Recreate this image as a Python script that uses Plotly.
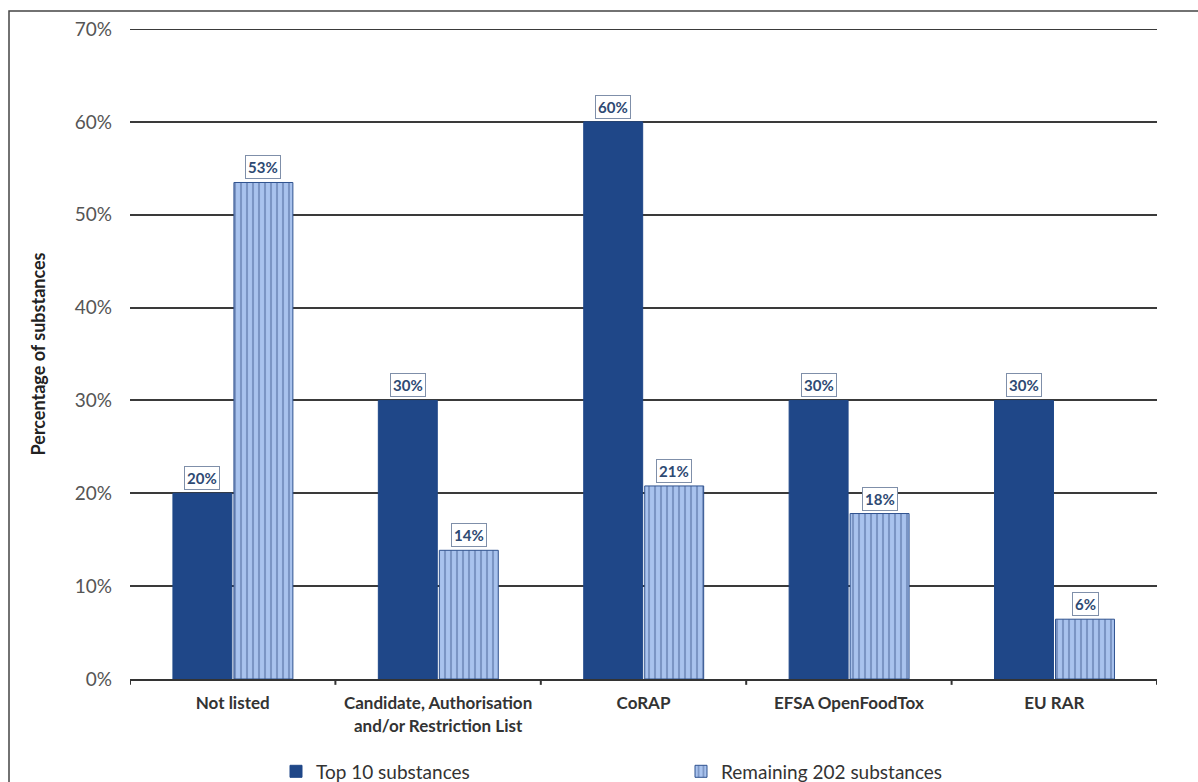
import plotly.graph_objects as go

# Share of substances appearing on each regulatory list
categories = ["Not listed", "Candidate, Authorisation<br>and/or Restriction List",
              "CoRAP", "EFSA OpenFoodTox", "EU RAR"]
top10 = [20, 30, 60, 30, 30]
remaining202 = [53.47, 13.86, 20.79, 17.82, 6.44]
ytick_vals = [0, 10, 20, 30, 40, 50, 60, 70]
ytick_text = ["0%", "10%", "20%", "30%", "40%", "50%", "60%", "70%"]

DARK = "#1f4788"
LIGHT = "#a9c3ee"
FONT = "Lato, Carlito, sans-serif"

BAR_W = 0.287
idx = list(range(len(categories)))

fig = go.Figure()
fig.add_trace(go.Bar(
    name="Top 10 substances", x=idx, y=top10,
    width=BAR_W, offset=-BAR_W - 0.004,
    marker=dict(color=DARK, line=dict(color=DARK, width=1)),
))
fig.add_trace(go.Bar(
    name="Remaining 202 substances", x=idx, y=remaining202,
    width=BAR_W, offset=0.006,
    marker=dict(color=LIGHT, line=dict(color="#2f528f", width=1),
                pattern=dict(shape="|", fgcolor="#4d6899", bgcolor=LIGHT,
                             size=6, solidity=0.35)),
))

# Boxed value labels above each bar
for series, off in ((top10, -BAR_W / 2 - 0.004), (remaining202, BAR_W / 2 + 0.006)):
    for i, v in enumerate(series):
        fig.add_annotation(
            x=i + off, y=v, text=f"<b>{v:.0f}%</b>", showarrow=False,
            yanchor="bottom", yshift=3, bgcolor="white",
            bordercolor="#7f8fa9", borderwidth=1, borderpad=2,
            font=dict(family=FONT, size=15, color="#2e4a73"),
        )

# Outer frame of the figure
fig.add_shape(type="rect", xref="paper", yref="paper",
              x0=(9 - 130) / 1027, x1=1.2, y0=-0.3, y1=(679 - 11) / 650,
              line=dict(color="#444444", width=1.5), layer="below")

# Top gridline at 70%
fig.add_shape(type="line", xref="paper", yref="y", x0=0, x1=1, y0=70, y1=70,
              line=dict(color="#3a3a3a", width=2), layer="below")

fig.update_layout(
    width=1198, height=782,
    margin=dict(l=130, r=41, t=29, b=103, autoexpand=False),
    paper_bgcolor="white", plot_bgcolor="white",
    font=dict(family=FONT, color="#404040"),
    showlegend=True,
    legend=dict(orientation="h", x=(276 - 130) / 1027, y=-0.113,
                xanchor="left", yanchor="top",
                entrywidth=360, entrywidthmode="pixels",
                font=dict(size=19, color="#333333")),
)
fig.update_xaxes(
    tickmode="array", tickvals=idx,
    ticktext=[f"<b>{c}</b>" for c in categories],
    range=[-0.5, len(categories) - 0.5], automargin=False,
    showline=True, linecolor="#333333", linewidth=2,
    ticks="", showgrid=False, zeroline=False, ticklabelstandoff=8,
    tickfont=dict(size=17, color="#333333"),
)
# boundary tick marks along the category axis
for b in range(len(categories) + 1):
    fig.add_shape(type="line", xref="x", yref="paper",
                  x0=b - 0.5, x1=b - 0.5, y0=0, y1=-0.009,
                  line=dict(color="#333333", width=2))
fig.update_yaxes(
    range=[0, 70], tickvals=ytick_vals, ticktext=ytick_text, automargin=False,
    showgrid=True, gridcolor="#3a3a3a", gridwidth=2,
    zeroline=False, showline=False, ticks="", ticklabelstandoff=17,
    tickfont=dict(size=19, color="#555555"),
    title=dict(text="<b>Percentage of substances</b>", standoff=24,
               font=dict(size=18, color="#222222")),
)

fig.write_html("out.html")
